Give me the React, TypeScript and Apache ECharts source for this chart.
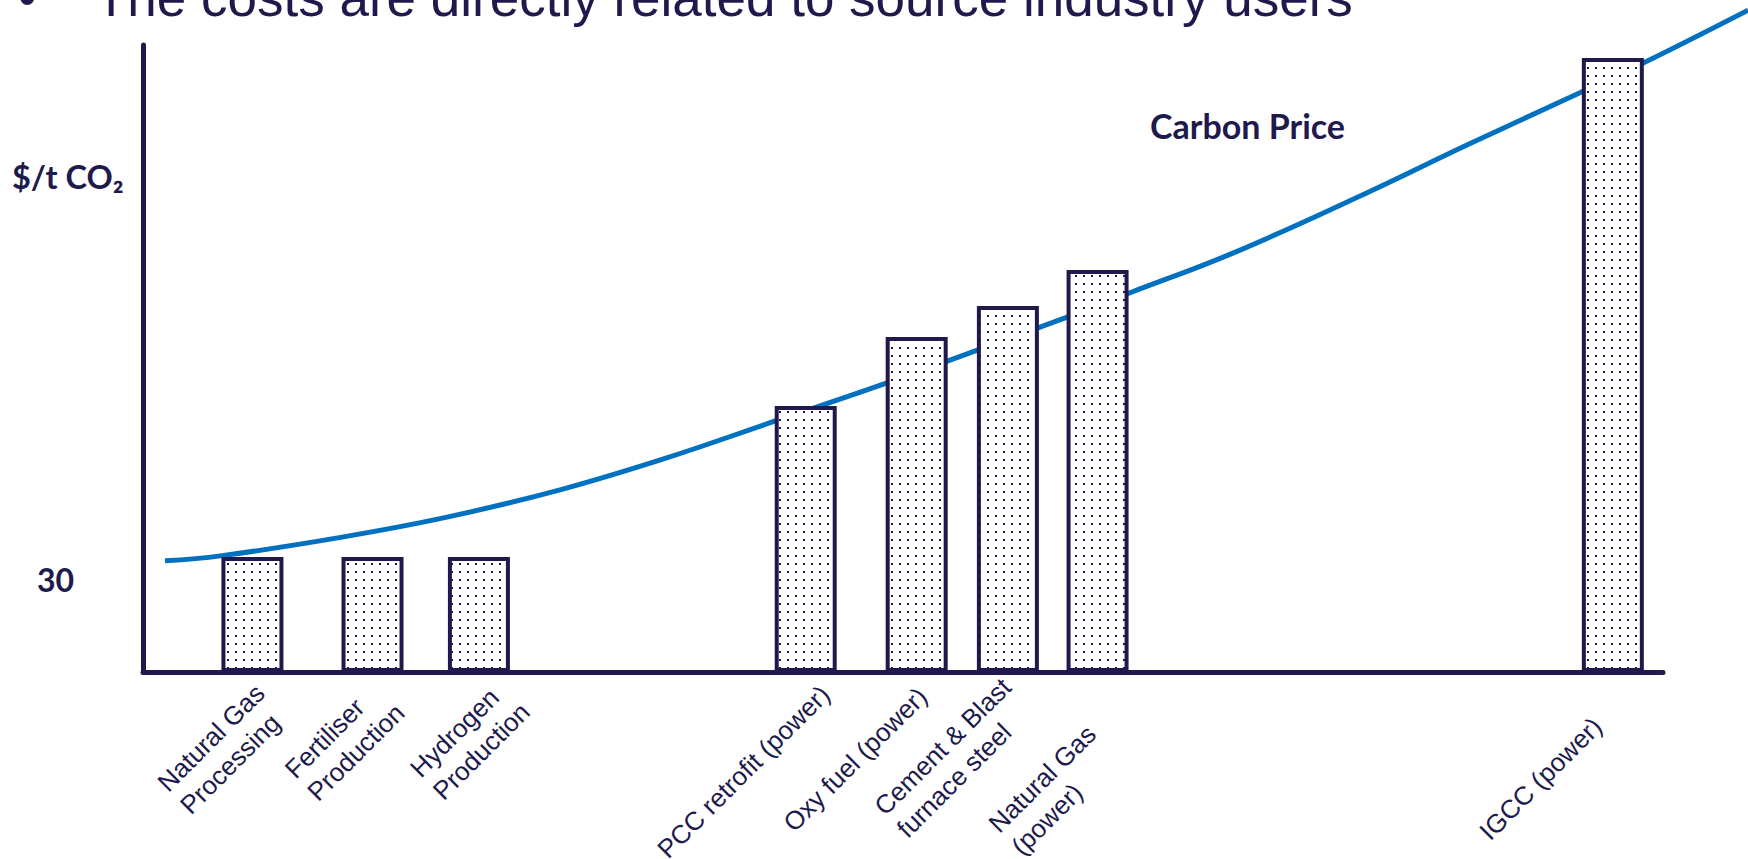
import React, { useEffect, useRef } from 'react';
import * as echarts from 'echarts';

// ---- data ----
const categories = [
  'Natural Gas\nProcessing',
  'Fertiliser\nProduction',
  'Hydrogen\nProduction',
  'PCC retrofit (power)',
  'Oxy fuel (power)',
  'Cement & Blast\nfurnace steel',
  'Natural Gas\n(power)',
  'IGCC (power)',
];
// position of each source along the (unitless) horizontal axis
const positions = [7.2, 15.1, 22.1, 43.6, 50.9, 56.9, 62.8, 96.7];
// capture cost, $/t CO2
const costs = [30, 30, 30, 69.4, 87.4, 95.5, 104.9, 160.2];
// carbon price curve
const priceX = [1.45, 5.1, 13.1, 20.0, 27.5, 34.4, 41.6, 48.9, 54.9, 60.8, 64.9, 71.7, 80.5, 87.1, 94.5, 98.8, 105.6];
const priceY = [29.0, 30.3, 35.2, 40.4, 47.6, 55.8, 65.5, 75.4, 84.0, 92.6, 98.9, 109.3, 125.0, 137.5, 151.1, 159.1, 172.7];
const yTickLabels = [30];
const titleText = 'The costs are directly related to source industry users';
const yName = '$/t CO\u2082';
const seriesName = 'Carbon Price';

// ---- style (pixel nudges of the rotated category labels) ----
const labelNudge = [
  [19, 28], [16, 25], [35, 24], [19.5, 18], [6, 20], [10, 22], [5, 69], [-15.5, 50],
];

export default function App() {
  const ref = useRef<HTMLDivElement>(null);
  useEffect(() => {
    const el = ref.current!;
    const chart = echarts.init(el, undefined, { renderer: 'svg' });
    const navy = '#201a4c';
    const blue = '#0070c0';

    const cv = document.createElement('canvas');
    cv.width = 8;
    cv.height = 8;
    const ctx = cv.getContext('2d')!;
    ctx.fillStyle = '#ffffff';
    ctx.fillRect(0, 0, 8, 8);
    ctx.fillStyle = navy;
    ctx.fillRect(3, 3, 2, 2);
    const pattern: any = { image: cv, repeat: 'repeat', imageWidth: 8, imageHeight: 8 };

    const hiddenAxis = {
      show: false, axisLine: { show: false }, axisTick: { show: false },
      axisLabel: { show: false }, splitLine: { show: false },
    };

    chart.setOption({
      animation: false,
      grid: [
        { left: 143, right: 85, top: 45, bottom: 187, containLabel: false, outerBoundsMode: 'none' },
        // same scale as grid 0, extended to the canvas edges so the curve can run past the axes
        { left: 143, right: 0, top: 0, bottom: 187, containLabel: false, outerBoundsMode: 'none' },
      ],
      xAxis: [
        {
          type: 'value', min: 0, max: 100, gridIndex: 0,
          axisLine: { show: true, onZero: false, lineStyle: { color: navy, width: 5 } },
          axisTick: { show: false }, axisLabel: { show: false }, splitLine: { show: false },
        },
        { type: 'value', min: 0, max: (1605 * 100) / 1520, gridIndex: 1, ...hiddenAxis },
      ],
      yAxis: [
        {
          type: 'value', min: 0, max: 163.6, interval: 30, gridIndex: 0,
          axisLine: { show: true, onZero: false, lineStyle: { color: navy, width: 5 } },
          axisTick: { show: false }, splitLine: { show: false },
          axisLabel: {
            formatter: (v: number) => (yTickLabels.includes(v) ? String(v) : ''),
            margin: 69, color: navy, fontFamily: 'Lato', fontWeight: 'bold', fontSize: 32,
            verticalAlign: 'top', lineHeight: 44,
          },
        },
        { type: 'value', min: 0, max: (672 * 163.6) / 627, gridIndex: 1, ...hiddenAxis },
      ],
      series: [
        {
          type: 'line', name: seriesName, xAxisIndex: 1, yAxisIndex: 1,
          data: priceX.map((x, i) => [x, priceY[i]]),
          smooth: 0.4, showSymbol: false, symbol: 'none', clip: false,
          lineStyle: { color: blue, width: 5 }, z: 1,
        },
        {
          type: 'bar', xAxisIndex: 0, yAxisIndex: 0,
          data: positions.map((x, i) => ({ value: [x, costs[i]], name: categories[i] })),
          barWidth: 62,
          itemStyle: { color: pattern, borderColor: navy, borderWidth: 4 },
          z: 3,
        },
      ],
    });

    const labels = categories.map((c, i) => {
      const p = chart.convertToPixel({ gridIndex: 0 }, [positions[i], 0]) as number[];
      const text = c.split('\n').map((s) => `{a|${s}}`).join('\n');
      return {
        type: 'text',
        x: p[0] + labelNudge[i][0],
        y: p[1] + labelNudge[i][1],
        rotation: Math.PI / 4,
        style: {
          text,
          align: 'right',
          verticalAlign: 'middle',
          rich: {
            a: { align: 'left', fontSize: 26, lineHeight: 32, fontFamily: '"Liberation Sans", Arial', fill: navy },
          },
        },
      };
    });

    chart.setOption({
      graphic: [
        {
          type: 'text', x: 18, y: -3,
          style: { text: '\u2022', fontSize: 53, fontFamily: '"Liberation Sans", Arial', fill: navy, verticalAlign: 'middle' },
        },
        {
          type: 'text', x: 95, y: -3,
          style: { text: titleText, fontSize: 53, fontFamily: '"Liberation Sans", Arial', fill: navy, verticalAlign: 'middle' },
        },
        {
          type: 'text', x: 12, y: 176,
          style: { text: yName, fontSize: 32.5, fontFamily: 'Lato', fontWeight: 'bold', fill: navy, verticalAlign: 'middle' },
        },
        {
          type: 'text', x: 1150, y: 125,
          style: { text: seriesName, fontSize: 34, fontFamily: 'Lato', fontWeight: 'bold', fill: navy, verticalAlign: 'middle' },
        },
        ...labels,
      ],
    });

    return () => chart.dispose();
  }, []);

  return (
    <div
      ref={ref}
      style={{ position: 'fixed', left: 0, top: 0, width: 1748, height: 859, background: '#ffffff' }}
    />
  );
}
